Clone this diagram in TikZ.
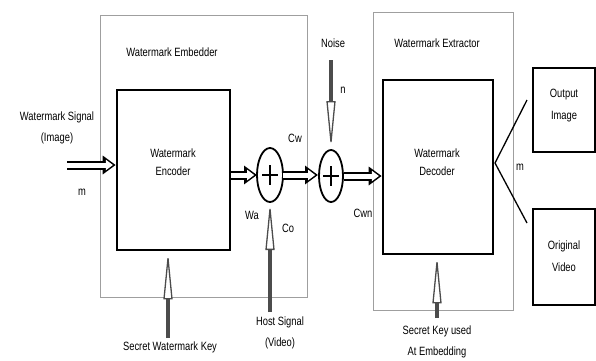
\documentclass[tikz,border=0pt]{standalone}
\usepackage{fontspec}
\newfontfamily\lblfont[FakeStretch=0.78]{Liberation Sans}
\usepackage{tikz}
\usetikzlibrary{arrows.meta,positioning,shapes.geometric,calc}

\begin{document}
\begin{tikzpicture}[x=1pt,y=-1pt,font=\lblfont\fontsize{12}{14}\selectfont,
lbl/.style={inner sep=0pt,align=center},
outer/.style={draw=gray!75,line width=0.8pt},
blk/.style={draw,line width=2.6pt},
res/.style={draw,line width=1.6pt},
sum/.style={rectangle,minimum width=26pt,minimum height=54pt,inner sep=0pt,outer sep=0pt},
hol/.style={preaction={draw=black,line width=9pt,shorten >=0pt,-{Triangle[length=13pt,width=18pt]}},draw=white,line width=5pt,shorten >=2.8pt,-{Triangle[length=7pt,width=10pt]}},
key/.style={draw=black!70,line width=3.5pt,-{Triangle[open,length=48pt,width=9pt,line width=1.3pt,fill=white]}}]
\useasboundingbox (0,0) rectangle (596,360);
% boxes
\draw[outer] (100,15) rectangle (307,297);
\draw[outer] (373,12) rectangle (513,310);
\node[blk,minimum width=113pt,minimum height=160pt](enc) at (173.5,170){};
\node[blk,minimum width=110pt,minimum height=174pt](dec) at (438,167){};
\node[res,minimum width=62pt,minimum height=84pt](oi) at (564,110){};
\node[res,minimum width=62pt,minimum height=96pt](ov) at (564,257){};
\node[sum](s1) at (270,175){};
\node[sum](s2) at (331,176){};
\draw[line width=1.8pt] (s1) ellipse [x radius=13pt,y radius=27pt] (s2) ellipse [x radius=12pt,y radius=26pt];
\draw[line width=2.5pt] ($(s1)+(-8,0)$)--($(s1)+(8,0)$) ($(s1)+(0,-10)$)--($(s1)+(0,10)$);
\draw[line width=2.5pt] ($(s2)+(-8,0)$)--($(s2)+(8,0)$) ($(s2)+(0,-10)$)--($(s2)+(0,10)$);
% labels
\node[lbl] at (172,52){Watermark Embedder};
\node[lbl] at (437,43){Watermark Extractor};
\node[lbl] at (173,162){Watermark\\[4pt]Encoder};
\node[lbl] at (437,162){Watermark\\[4pt]Decoder};
\node[lbl] at (564,106){Output\\[8pt]Image};
\node[lbl] at (564,256){Original\\[8pt]Video};
\node[lbl] at (57,128){Watermark Signal\\[7pt](Image)};
\node[lbl] at (82,192){m};
\node[lbl] at (295,138){Cw};
\node[lbl] at (252,215){Wa};
\node[lbl] at (288,228){Co};
\node[lbl] at (363,213){Cwn};
\node[lbl] at (333,43){Noise};
\node[lbl] at (343,90){n};
\node[lbl] at (520,167){m};
\node[lbl] at (280,333){Host Signal\\[7pt](Video)};
\node[lbl] at (170,347){Secret Watermark Key};
\node[lbl] at (437,342){Secret Key used\\[7pt]At Embedding};
% signal flow
\coordinate (win) at (67,165);
\coordinate (host) at (270,312);
\coordinate (noise) at (331,60);
\coordinate (wkey) at (168,338);
\coordinate (skey) at (437,318);
\coordinate (sp) at (495,163);
\coordinate (oa) at (527,100);
\coordinate (ob) at (527,223);
\draw[hol] (win)--(enc.west|-win);
\draw[hol] (enc.east|-s1)--(s1.west);
\draw[hol] (s1.east)--(s2.west|-s1);
\draw[hol] (s2.east)--(dec.west|-s2);
\draw[key] (host)--(s1.south);
\draw[key] (noise)--(s2.north);
\draw[key] (wkey)--(enc.south-|wkey);
\draw[key] (skey)--(dec.south-|skey);
\draw[line width=1.3pt] (oa)--(sp)--(ob);
\end{tikzpicture}
\end{document}
